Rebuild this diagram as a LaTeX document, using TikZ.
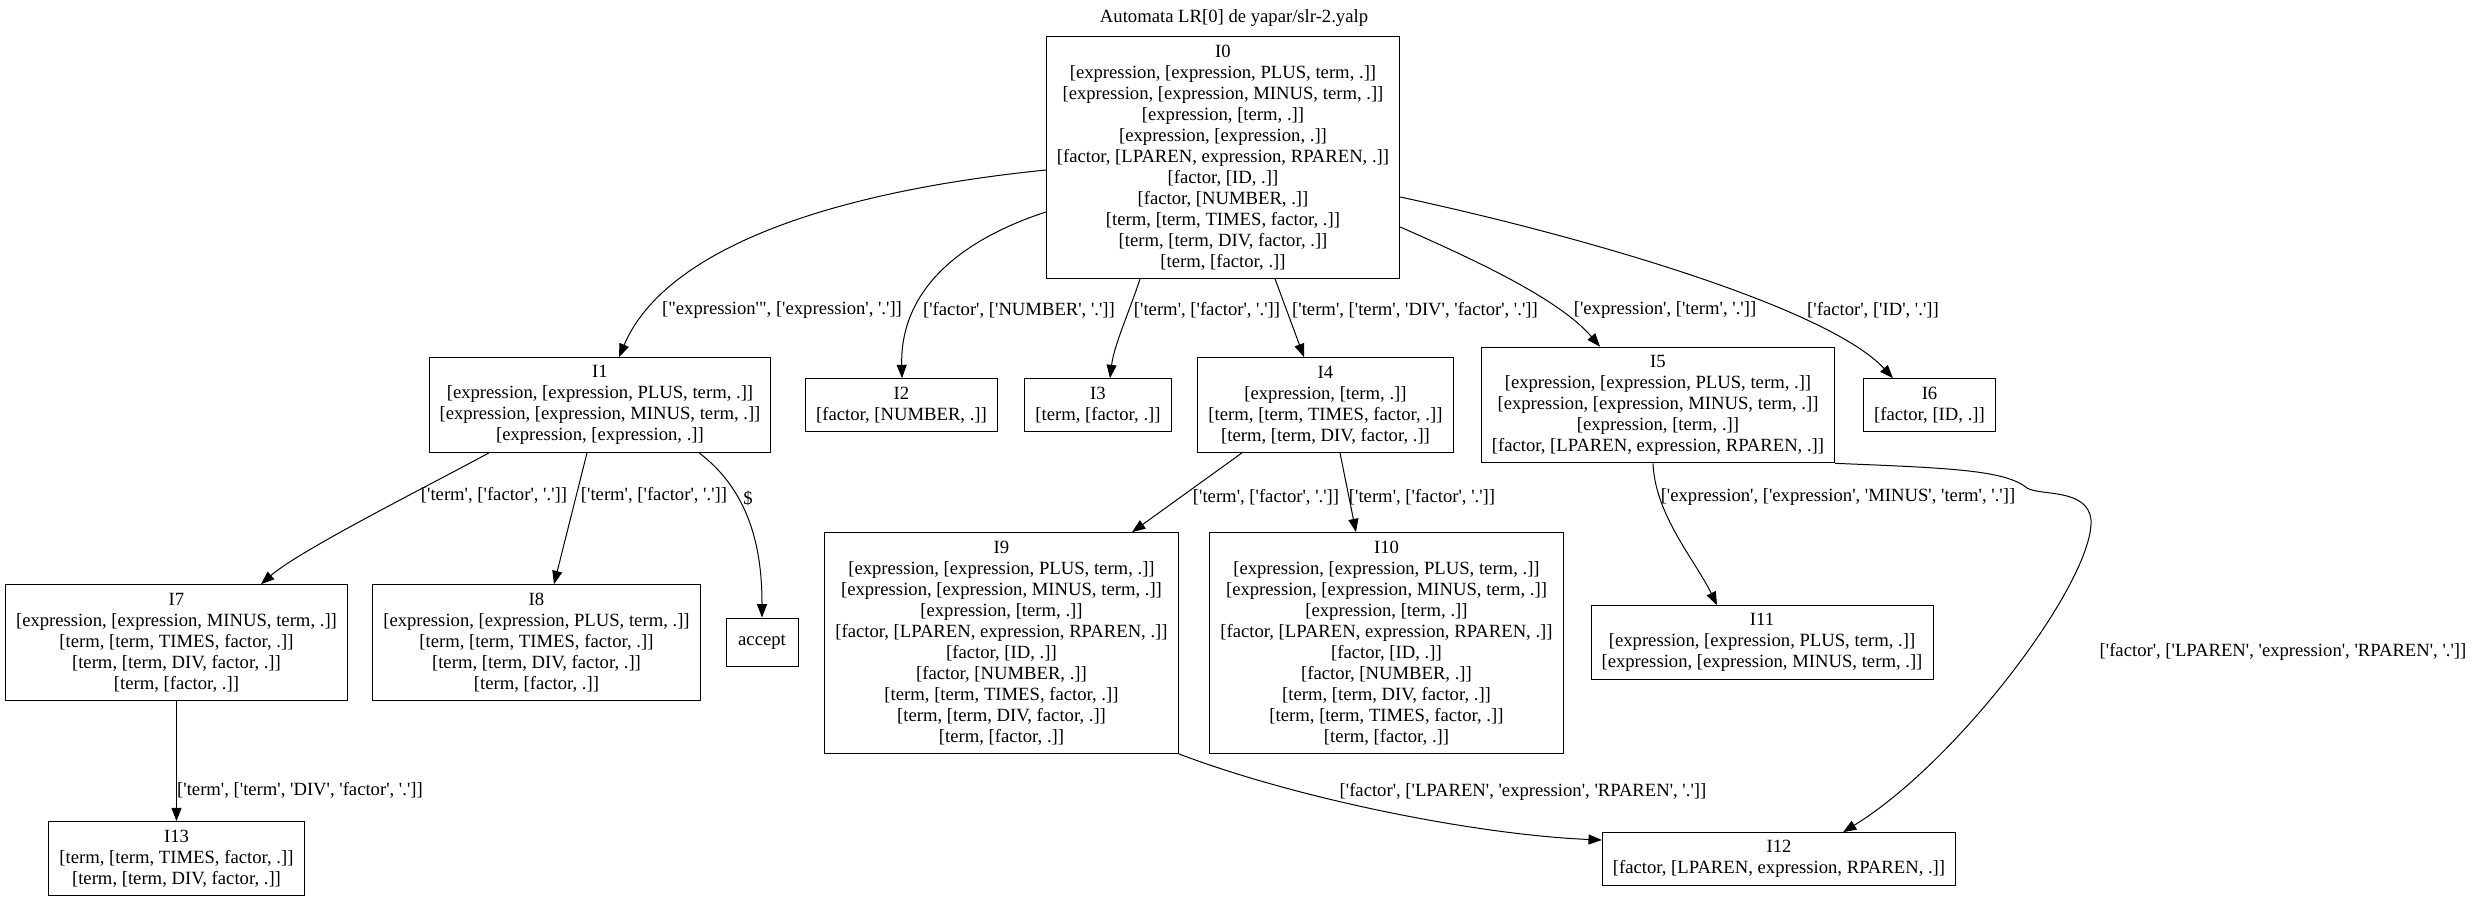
\documentclass[tikz,border=0pt]{standalone}
\usepackage{fontspec}
\setmainfont{Liberation Serif}[Ligatures=TeXOff]
\usetikzlibrary{arrows.meta,calc}
\begin{document}
\begin{tikzpicture}[x=0.75pt,y=-0.75pt,
  every node/.style={font=\fontsize{14}{15.75}\selectfont},
  box/.style={draw, line width=0.75pt, align=center, inner xsep=7.9pt, inner ysep=0pt, minimum width=54pt},
  lbl/.style={inner sep=0pt},
  conn/.style={draw, line width=0.75pt, -{Triangle[length=10pt,width=7.5pt]}}
]
\useasboundingbox (0,0) rectangle (2472,901);

\node[lbl] (title) at (1234,18) {Automata LR[0] de yapar/slr-2.yalp};

\node[box, minimum height=181.25pt] (I0) at (1223,157.5) {I0\\{}[expression, [expression, PLUS, term, .]]\\{}[expression, [expression, MINUS, term, .]]\\{}[expression, [term, .]]\\{}[expression, [expression, .]]\\{}[factor, [LPAREN, expression, RPAREN, .]]\\{}[factor, [ID, .]]\\{}[factor, [NUMBER, .]]\\{}[term, [term, TIMES, factor, .]]\\{}[term, [term, DIV, factor, .]]\\{}[term, [factor, .]]};

\node[box, minimum height=71pt] (I1) at (600,405) {I1\\{}[expression, [expression, PLUS, term, .]]\\{}[expression, [expression, MINUS, term, .]]\\{}[expression, [expression, .]]};
\node[box, minimum height=39.5pt] (I2) at (901.5,405) {I2\\{}[factor, [NUMBER, .]]};
\node[box, minimum height=39.5pt] (I3) at (1098,405) {I3\\{}[term, [factor, .]]};
\node[box, minimum height=71pt] (I4) at (1325.5,405) {I4\\{}[expression, [term, .]]\\{}[term, [term, TIMES, factor, .]]\\{}[term, [term, DIV, factor, .]]};
\node[box, minimum height=86.75pt] (I5) at (1658,405) {I5\\{}[expression, [expression, PLUS, term, .]]\\{}[expression, [expression, MINUS, term, .]]\\{}[expression, [term, .]]\\{}[factor, [LPAREN, expression, RPAREN, .]]};
\node[box, minimum height=39.5pt] (I6) at (1929.5,405) {I6\\{}[factor, [ID, .]]};

\node[box, minimum height=86.75pt] (I7) at (176.5,642.5) {I7\\{}[expression, [expression, MINUS, term, .]]\\{}[term, [term, TIMES, factor, .]]\\{}[term, [term, DIV, factor, .]]\\{}[term, [factor, .]]};
\node[box, minimum height=86.75pt] (I8) at (536.5,642.5) {I8\\{}[expression, [expression, PLUS, term, .]]\\{}[term, [term, TIMES, factor, .]]\\{}[term, [term, DIV, factor, .]]\\{}[term, [factor, .]]};
\node[box, minimum height=36pt] (acc) at (762,642) {accept};
\node[box, minimum height=165.5pt] (I9) at (1001.5,643) {I9\\{}[expression, [expression, PLUS, term, .]]\\{}[expression, [expression, MINUS, term, .]]\\{}[expression, [term, .]]\\{}[factor, [LPAREN, expression, RPAREN, .]]\\{}[factor, [ID, .]]\\{}[factor, [NUMBER, .]]\\{}[term, [term, TIMES, factor, .]]\\{}[term, [term, DIV, factor, .]]\\{}[term, [factor, .]]};
\node[box, minimum height=165.5pt] (I10) at (1386.5,643) {I10\\{}[expression, [expression, PLUS, term, .]]\\{}[expression, [expression, MINUS, term, .]]\\{}[expression, [term, .]]\\{}[factor, [LPAREN, expression, RPAREN, .]]\\{}[factor, [ID, .]]\\{}[factor, [NUMBER, .]]\\{}[term, [term, DIV, factor, .]]\\{}[term, [term, TIMES, factor, .]]\\{}[term, [factor, .]]};
\node[box, minimum height=55.25pt] (I11) at (1762,642.5) {I11\\{}[expression, [expression, PLUS, term, .]]\\{}[expression, [expression, MINUS, term, .]]};

\node[box, minimum height=39.5pt] (I12) at (1779,859) {I12\\{}[factor, [LPAREN, expression, RPAREN, .]]};
\node[box, minimum height=55.25pt] (I13) at (176.5,858.5) {I13\\{}[term, [term, TIMES, factor, .]]\\{}[term, [term, DIV, factor, .]]};

% edges
\draw[conn] (I0.west |- 0,170) .. controls (800,195) and (660,260) .. (I1.north -| 619,0);
\draw[conn] (I0.west |- 0,212) .. controls (960,240) and (900,290) .. (I2.north -| 902,0);
\draw[conn] (I0.south -| 1140,0) .. controls (1130,310) and (1114,345) .. (I3.north -| 1110,0);
\draw[conn] (I0.south -| 1275,0) -- (I4.north -| 1304,0);
\draw[conn] (I0.east |- 0,227) .. controls (1480,262) and (1560,300) .. (I5.north -| 1600,0);
\draw[conn] (I0.east |- 0,197) .. controls (1600,240) and (1830,310) .. (I6.north -| 1893,0);

\draw[conn] (I1.south -| 489,0) .. controls (430,485) and (300,550) .. (I7.north -| 261,0);
\draw[conn] (I1.south -| 587,0) -- (I8.north -| 554,0);
\draw[conn] (I1.south -| 699,0) .. controls (755,495) and (762,560) .. (acc.north);
\draw[conn] (I4.south -| 1242,0) -- (I9.north -| 1132,0);
\draw[conn] (I4.south -| 1340,0) -- (I10.north -| 1356,0);
\draw[conn] (I5.south -| 1653,0) .. controls (1655,515) and (1695,560) .. (I11.north -| 1717,0);
\draw[conn] (I5.south east) .. controls (1950,468) and (2005,470) .. (2027,488)
   .. controls (2040,496) and (2088,488) .. (2091,520)
   .. controls (2094,580) and (1960,760) .. (I12.north -| 1843,0);
\draw[conn] (I9.south east) .. controls (1300,800) and (1480,835) .. (I12.west |- 0,840);
\draw[conn] (I7.south) -- (I7.south |- I13.north);

% labels
\node[lbl] (l01) at (782,310) {["expression'", ['expression', '.']]};
\node[lbl] (l02) at (1019,310) {['factor', ['NUMBER', '.']]};
\node[lbl] (l03) at (1207,310) {['term', ['factor', '.']]};
\node[lbl] (l04) at (1415,310) {['term', ['term', 'DIV', 'factor', '.']]};
\node[lbl] (l05) at (1665,310) {['expression', ['term', '.']]};
\node[lbl] (l06) at (1873,310) {['factor', ['ID', '.']]};
\node[lbl] (l17) at (494,495) {['term', ['factor', '.']]};
\node[lbl] (l18) at (654,495) {['term', ['factor', '.']]};
\node[lbl] (lacc) at (748,498) {\$};
\node[lbl] (l49) at (1266,497) {['term', ['factor', '.']]};
\node[lbl] (l410) at (1422,497) {['term', ['factor', '.']]};
\node[lbl] (l511) at (1838,497) {['expression', ['expression', 'MINUS', 'term', '.']]};
\node[lbl] (l512) at (2283,652) {['factor', ['LPAREN', 'expression', 'RPAREN', '.']]};
\node[lbl] (l912) at (1523,792) {['factor', ['LPAREN', 'expression', 'RPAREN', '.']]};
\node[lbl] (l713) at (300,790) {['term', ['term', 'DIV', 'factor', '.']]};
\end{tikzpicture}
\end{document}
